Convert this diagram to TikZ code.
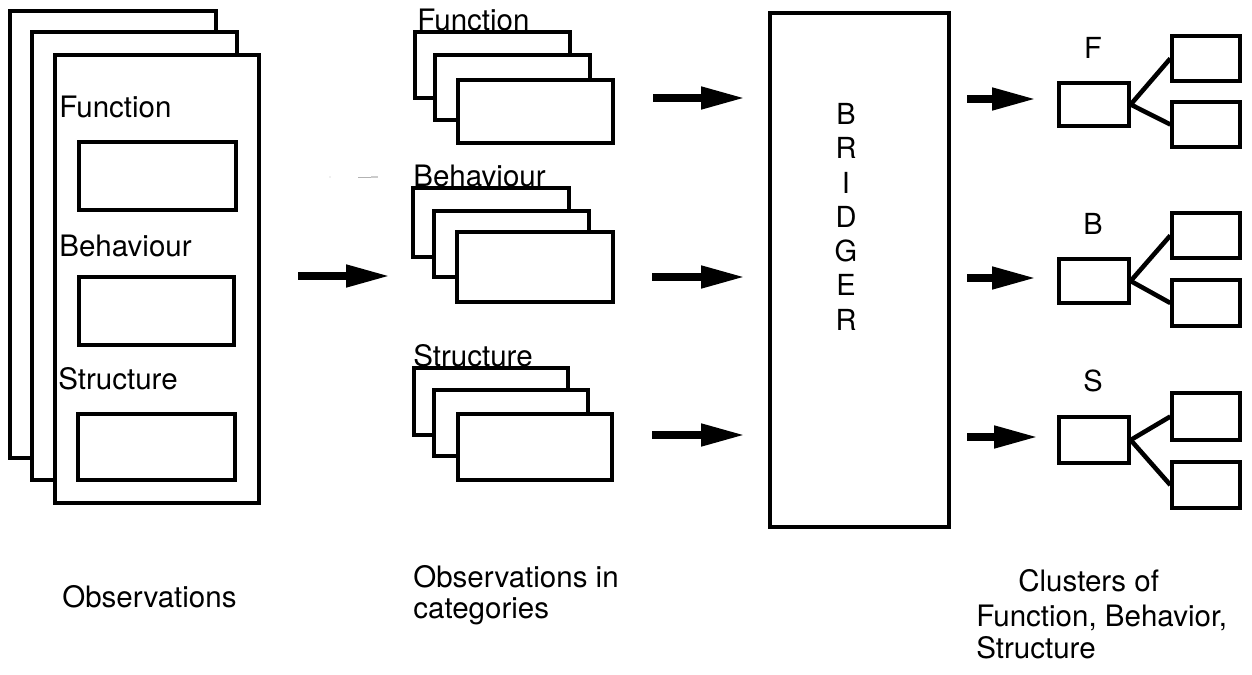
\documentclass[tikz,border=0pt]{standalone}
\usepackage{fontspec}
\setmainfont{TeX Gyre Heros}
\usetikzlibrary{fit,arrows.meta}
\begin{document}
\begin{tikzpicture}[x=0.02cm,y=-0.02cm,
  box/.style={draw=black, line width=1.9pt, fill=white, inner sep=0pt, rectangle},
  lbl/.style={inner sep=0pt, anchor=base west, font=\fontsize{16.8}{19}\selectfont},
  letter/.style={inner sep=0pt, font=\fontsize{16.5}{19.5}\selectfont},
  bigarrow/.style={line width=4.2pt, -{Triangle[length=25pt,width=12pt]}},
  link/.style={line width=2.6pt}]
\useasboundingbox (0,0) rectangle (1252,675);
\fill[white] (0,0) rectangle (1252,675);

% ---- left stack of observation sheets
\node[box, fit={(10,11) (216,458)}] (L1) {};
\node[box, fit={(32,32) (237,480)}] (L2) {};
\node[box, fit={(55,55) (259,503)}] (L3) {};
\node[lbl] (tLF) at (59,118) {Function};
\node[box, fit={(79,142) (236,210)}] (LF) {};
\node[lbl] (tLB) at (59,257) {Behaviour};
\node[box, fit={(79,277) (234,345)}] (LB) {};
\node[lbl] (tLS) at (58,390) {Structure};
\node[box, fit={(78,414) (235,480)}] (LS) {};

% ---- faint scan mark
\fill[gray!50] (330,177) circle (0.6);
\draw[gray!60, line width=0.4pt] (358,177) -- (371,177);
\draw[gray!40, line width=0.6pt] (371,177) -- (378,177);

% ---- arrow into categories
\coordinate (a0s) at (298,276);
\coordinate (a0e) at (390,276);
\draw[bigarrow] (a0s) -- (a0e);

% ---- middle stacks
\node[box, fit={(415,32) (570,98)}] (MF1) {};
\node[box, fit={(435,55) (590,120)}] (MF2) {};
\node[box, fit={(458,80) (613,143)}] (MF3) {};
\node[lbl] (tMF) at (417,31) {Function};

\node[box, fit={(413,188) (569,257)}] (MB1) {};
\node[box, fit={(434,211) (589,277)}] (MB2) {};
\node[box, fit={(457,232) (613,302)}] (MB3) {};
\node[lbl] (tMB) at (413,187) {Behaviour};

\node[box, fit={(414,368) (568,435)}] (MS1) {};
\node[box, fit={(434,390) (588,456)}] (MS2) {};
\node[box, fit={(458,414) (612,480)}] (MS3) {};
\node[lbl] (tMS) at (413,367) {Structure};

% ---- arrows into BRIDGER
\coordinate (b1s) at (653,98);  \coordinate (b1e) at (745,98);
\coordinate (b2s) at (652,277); \coordinate (b2e) at (745,277);
\coordinate (b3s) at (652,435); \coordinate (b3e) at (745,435);
\draw[bigarrow] (b1s) -- (b1e);
\draw[bigarrow] (b2s) -- (b2e);
\draw[bigarrow] (b3s) -- (b3e);

% ---- BRIDGER
\node[box, fit={(770,13) (949,527)}] (BR) {};
\node[letter, anchor=north, align=center] (BRt) at (846,103) {B\\R\\I\\D\\G\\E\\R};

% ---- arrows to clusters
\coordinate (c1s) at (967,99);  \coordinate (c1e) at (1036,99);
\coordinate (c2s) at (967,278); \coordinate (c2e) at (1036,278);
\coordinate (c3s) at (967,437); \coordinate (c3e) at (1038,437);
\draw[bigarrow] (c1s) -- (c1e);
\draw[bigarrow] (c2s) -- (c2e);
\draw[bigarrow] (c3s) -- (c3e);

% ---- clusters
\node[box, fit={(1059,83) (1129,126)}] (FR) {};
\node[box, fit={(1172,36) (1240,81)}] (FC1) {};
\node[box, fit={(1172,102) (1240,147)}] (FC2) {};
\node[letter] (tF) at (1093,48) {F};
\draw[link] (FR.east) -- (FC1.west);
\draw[link] (FR.east) -- (FC2.west);

\node[box, fit={(1059,259) (1129,303)}] (BRt0) {};
\node[box, fit={(1172,213) (1240,258)}] (BC1) {};
\node[box, fit={(1172,280) (1240,326)}] (BC2) {};
\node[letter] (tB) at (1093,224) {B};
\draw[link] (BRt0.east) -- (BC1.west);
\draw[link] (BRt0.east) -- (BC2.west);

\node[box, fit={(1059,417) (1129,463)}] (SR) {};
\node[box, fit={(1172,393) (1240,440)}] (SC1) {};
\node[box, fit={(1172,462) (1240,508)}] (SC2) {};
\node[letter] (tS) at (1093,381) {S};
\draw[link] (SR.east) -- (SC1.west);
\draw[link] (SR.east) -- (SC2.west);

% ---- captions
\node[lbl] (cap1) at (62,608) {Observations};
\node[lbl] (cap2a) at (413,588) {Observations in};
\node[lbl] (cap2b) at (413,619) {categories};
\node[lbl] (cap3a) at (1018,592) {Clusters of};
\node[lbl] (cap3b) at (976,626) {Function, Behavior,};
\node[lbl] (cap3c) at (976,659) {Structure};
\end{tikzpicture}
\end{document}
